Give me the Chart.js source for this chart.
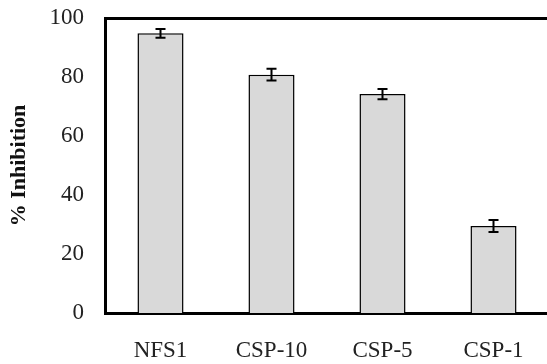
<!DOCTYPE html>
<html>
<head>
<meta charset="utf-8">
<script src="https://cdn.jsdelivr.net/npm/chart.js@4"></script>
<style>
    html, body { margin: 0; padding: 0; background: #fff; overflow: hidden; }
    #wrap { width: 560px; height: 364px; }
</style>
</head>
<body>
<div id="wrap"><canvas id="inhibitionChart" width="560" height="364"></canvas></div>
<script>
// Data
const categories = ['NFS1', 'CSP-10', 'CSP-5', 'CSP-1'];
const inhibition = [94.8, 80.8, 74.2, 29.5];
const errors = [1.5, 2.0, 1.7, 2.0];
const yTicks = [0, 20, 40, 60, 80, 100];

const serif = "'Liberation Serif', 'DejaVu Serif', serif";

// Error bars drawn through the y scale
const errorBars = {
    id: 'errorBars',
    afterDatasetsDraw(chart) {
        const ctx = chart.ctx;
        const yScale = chart.scales.y;
        const meta = chart.getDatasetMeta(0);
        ctx.save();
        ctx.strokeStyle = '#000';
        ctx.lineWidth = 2;
        meta.data.forEach((bar, i) => {
            const top = yScale.getPixelForValue(inhibition[i] + errors[i]);
            const bottom = yScale.getPixelForValue(inhibition[i] - errors[i]);
            const cap = 5;
            ctx.beginPath();
            ctx.moveTo(bar.x, top);
            ctx.lineTo(bar.x, bottom);
            ctx.moveTo(bar.x - cap, top);
            ctx.lineTo(bar.x + cap, top);
            ctx.moveTo(bar.x - cap, bottom);
            ctx.lineTo(bar.x + cap, bottom);
            ctx.stroke();
        });
        ctx.restore();
    }
};

new Chart(document.getElementById('inhibitionChart'), {
    type: 'bar',
    data: {
        labels: categories,
        datasets: [{
            data: inhibition,
            backgroundColor: '#d9d9d9',
            borderColor: '#000',
            borderWidth: 1.5,
            categoryPercentage: 1,
            barPercentage: 0.415
        }]
    },
    options: {
        responsive: false,
        animation: false,
        layout: { padding: { left: 6, top: 18, right: 11, bottom: 0 } },
        plugins: {
            legend: { display: false },
            tooltip: { enabled: false }
        },
        scales: {
            x: {
                grid: { display: false, drawTicks: false },
                border: { color: '#000', width: 3 },
                ticks: {
                    color: '#222',
                    font: { family: serif, size: 23 },
                    padding: 24,
                    maxRotation: 0
                },
                afterFit(scale) {
                    scale.height = 51;
                    scale.paddingLeft = 0;
                    scale.paddingRight = 0;
                }
            },
            xTop: {
                position: 'top',
                grid: { display: false, drawTicks: false },
                border: { color: '#000', width: 3 },
                ticks: { display: false },
                afterFit(scale) {
                    scale.height = 0;
                    scale.paddingLeft = 0;
                    scale.paddingRight = 0;
                }
            },
            y: {
                min: 0,
                max: 100,
                afterBuildTicks(scale) {
                    scale.ticks = yTicks.map(v => ({ value: v }));
                },
                grid: { display: false, drawTicks: false },
                border: { color: '#000', width: 3 },
                ticks: {
                    color: '#222',
                    font: { family: serif, size: 23 },
                    padding: 21
                },
                title: {
                    display: true,
                    text: '% Inhibition',
                    color: '#111',
                    font: { family: serif, size: 22, weight: 'bold' },
                    padding: { top: 0, bottom: 0 }
                },
                afterFit(scale) {
                    scale.width = 99;
                    scale.paddingTop = 0;
                    scale.paddingBottom = 0;
                }
            }
        }
    },
    plugins: [errorBars]
});
</script>
</body>
</html>
